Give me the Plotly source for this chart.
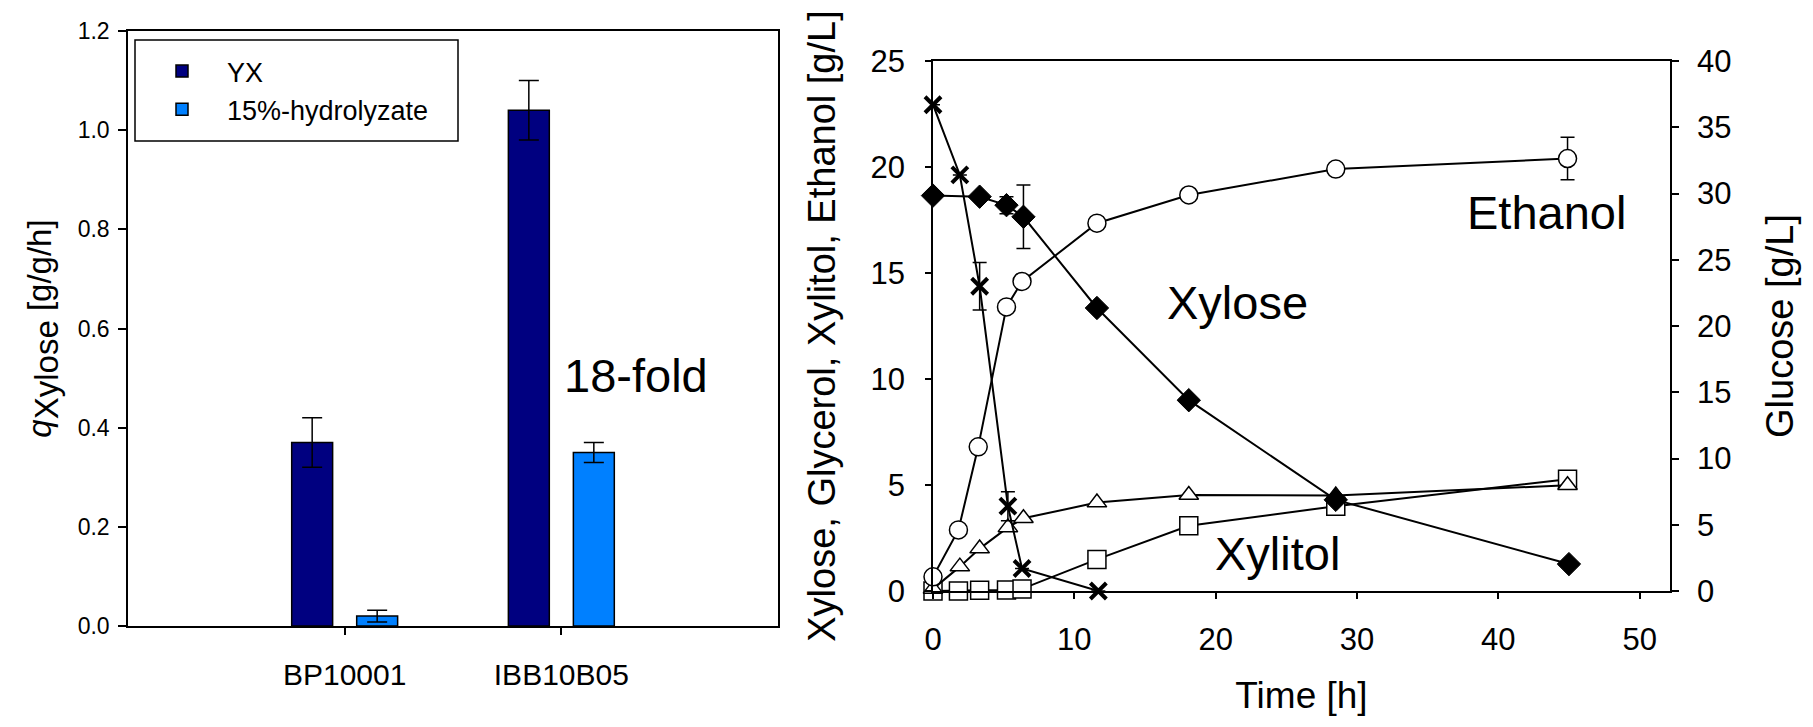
import plotly.graph_objects as go

# Page body has an 8 px margin, so the figure is sized to fit inside the window
OFF = 8
FW, FH = 1797, 711

# ---------------- Left panel data (bar chart) ----------------
strains = ["BP10001", "IBB10B05"]
yx_values = [0.37, 1.04]
yx_errors = [0.05, 0.06]
hydro_values = [0.02, 0.35]
hydro_errors = [0.012, 0.02]
bar_series_names = ["YX", "15%-hydrolyzate"]
left_yticks = [0.0, 0.2, 0.4, 0.6, 0.8, 1.0, 1.2]

# ---------------- Right panel data (time course) ----------------
xylose_t = [0, 3.3, 5.2, 6.4, 11.6, 18.1, 28.5, 45.0]
xylose_v = [18.65, 18.6, 18.2, 17.65, 13.35, 9.0, 4.3, 1.27]
xylose_e = [0, 0, 0.4, 1.5, 0, 0, 0, 0]

glucose_t = [0, 1.9, 3.3, 5.3, 6.3, 11.7]
glucose_v = [36.7, 31.4, 23.0, 6.4, 1.7, 0.0]
glucose_e = [0, 0, 1.8, 1.1, 0, 0]

ethanol_t = [0, 1.8, 3.2, 5.2, 6.3, 11.6, 18.1, 28.5, 44.9]
ethanol_v = [0.67, 2.88, 6.8, 13.4, 14.6, 17.35, 18.68, 19.9, 20.4]
ethanol_e = [0, 0, 0, 0, 0, 0, 0, 0, 1.0]

glycerol_t = [0, 1.9, 3.3, 5.3, 6.4, 11.6, 18.1, 28.5, 44.9]
glycerol_v = [0.1, 1.15, 2.0, 3.0, 3.43, 4.17, 4.53, 4.5, 4.99]

xylitol_t = [0, 1.8, 3.3, 5.2, 6.3, 11.6, 18.1, 28.5, 44.9]
xylitol_v = [0.0, 0.0, 0.03, 0.05, 0.1, 1.49, 3.08, 4.0, 5.27]

right_xticks = [0, 10, 20, 30, 40, 50]
left2_yticks = [0, 5, 10, 15, 20, 25]
right_yticks = [0, 5, 10, 15, 20, 25, 30, 35, 40]

annotation_texts = ["18-fold", "Ethanol", "Xylose", "Xylitol"]

# ---------------- Styles ----------------
NAVY = "#000080"
AZURE = "#0080FF"
FONT = "Liberation Sans, Arial, sans-serif"


def px_x(p):
    return (p - OFF) / FW


def px_y(p):
    return 1 - (p - OFF) / FH


fig = go.Figure()

fig.add_trace(go.Bar(
    x=strains, y=yx_values, name=bar_series_names[0],
    marker=dict(color=NAVY, line=dict(color="black", width=1.5)),
    error_y=dict(type="data", array=yx_errors, color="black", thickness=1.5, width=10),
    xaxis="x", yaxis="y",
))
fig.add_trace(go.Bar(
    x=strains, y=hydro_values, name=bar_series_names[1],
    marker=dict(color=AZURE, line=dict(color="black", width=1.5)),
    error_y=dict(type="data", array=hydro_errors, color="black", thickness=1.5, width=10),
    xaxis="x", yaxis="y",
))

line_style = dict(color="black", width=2)
err_style = dict(color="black", thickness=1.5, width=7)

fig.add_trace(go.Scatter(
    x=xylitol_t, y=xylitol_v, mode="lines+markers", showlegend=False, name="Xylitol",
    line=line_style, cliponaxis=False,
    marker=dict(symbol="square", size=18, color="white", line=dict(color="black", width=1.5)),
    xaxis="x2", yaxis="y2",
))
fig.add_trace(go.Scatter(
    x=glycerol_t, y=glycerol_v, mode="lines+markers", showlegend=False, name="Glycerol",
    line=line_style, cliponaxis=False,
    marker=dict(symbol="triangle-up", size=17, color="white", line=dict(color="black", width=1.5)),
    xaxis="x2", yaxis="y2",
))
fig.add_trace(go.Scatter(
    x=ethanol_t, y=ethanol_v, mode="lines+markers", showlegend=False, name="Ethanol",
    line=line_style, cliponaxis=False,
    marker=dict(symbol="circle", size=18, color="white", line=dict(color="black", width=1.5)),
    error_y=dict(type="data", array=ethanol_e, **err_style),
    xaxis="x2", yaxis="y2",
))
fig.add_trace(go.Scatter(
    x=xylose_t, y=xylose_v, mode="lines+markers", showlegend=False, name="Xylose",
    line=line_style, cliponaxis=False,
    marker=dict(symbol="diamond", size=18, color="black", line=dict(color="black", width=1)),
    error_y=dict(type="data", array=xylose_e, **err_style),
    xaxis="x2", yaxis="y2",
))
fig.add_trace(go.Scatter(
    x=glucose_t, y=glucose_v, mode="lines+markers", showlegend=False, name="Glucose",
    line=line_style, cliponaxis=False,
    marker=dict(symbol="x-thin", size=16, color="black", line=dict(color="black", width=4)),
    error_y=dict(type="data", array=glucose_e, **err_style),
    xaxis="x2", yaxis="y3",
))

axis_common = dict(showline=True, linecolor="black", linewidth=1.5, ticks="outside",
                   tickcolor="black", tickwidth=1.5, showgrid=False, zeroline=False,
                   automargin=False)

fig.update_layout(
    width=FW, height=FH,
    margin=dict(l=0, r=0, t=0, b=0, pad=0, autoexpand=False),
    paper_bgcolor="white", plot_bgcolor="white",
    barmode="group", bargap=0.4, bargroupgap=0.37,
    font=dict(family=FONT, color="black"),
    showlegend=True,
    legend=dict(
        x=px_x(137), y=px_y(47), xanchor="left", yanchor="top",
        bgcolor="rgba(0,0,0,0)", borderwidth=0,
        font=dict(size=27, family=FONT), itemwidth=80,
    ),
    # frame drawn around the legend area
    shapes=[dict(type="rect", xref="paper", yref="paper",
                 x0=px_x(135), x1=px_x(458), y0=px_y(141), y1=px_y(40),
                 line=dict(color="black", width=1.5), fillcolor="rgba(0,0,0,0)", layer="above")],
    xaxis=dict(
        domain=[px_x(128), px_x(778)], anchor="y",
        type="category", range=[-1, 2], mirror=True,
        ticklen=7, tickfont=dict(size=30), ticklabelstandoff=14,
        **axis_common,
    ),
    yaxis=dict(
        domain=[px_y(626), px_y(31)], anchor="x",
        range=[0, 1.2], tickvals=left_yticks, tickformat=".1f", mirror=True,
        ticklen=8, tickfont=dict(size=23), ticklabelstandoff=4,
        title=dict(
            text="<i>q</i><sub><span style='font-size:33px'>Xylose</span></sub> [g/g/h]",
            font=dict(size=33), standoff=16,
        ),
        **axis_common,
    ),
    xaxis2=dict(
        domain=[px_x(933), px_x(1670)], anchor="y2",
        range=[0, 52.15], tickvals=right_xticks, mirror=True,
        ticklen=6, tickfont=dict(size=31), ticklabelstandoff=14,
        title=dict(text="Time [h]", font=dict(size=37), standoff=26),
        **axis_common,
    ),
    yaxis2=dict(
        domain=[px_y(591), px_y(61)], anchor="x2",
        range=[0, 25], tickvals=left2_yticks,
        ticklen=6, tickfont=dict(size=31), ticklabelstandoff=14,
        title=dict(text="Xylose, Glycerol, Xylitol, Ethanol [g/L]", font=dict(size=38), standoff=23),
        **axis_common,
    ),
    yaxis3=dict(
        overlaying="y2", anchor="x2", side="right",
        range=[0, 40], tickvals=right_yticks,
        ticklen=7, tickfont=dict(size=31), ticklabelstandoff=12,
        title=dict(text="Glucose [g/L]", font=dict(size=38), standoff=36),
        **axis_common,
    ),
)

ann_pos = [(636, 375), (1546, 212), (1237, 302), (1277, 553)]
for txt, (ax_, ay_) in zip(annotation_texts, ann_pos):
    fig.add_annotation(
        x=px_x(ax_), y=px_y(ay_), xref="paper", yref="paper",
        text=txt, showarrow=False, xanchor="center", yanchor="middle",
        font=dict(family=FONT, size=47, color="black"),
    )

fig.write_html("out.html")
